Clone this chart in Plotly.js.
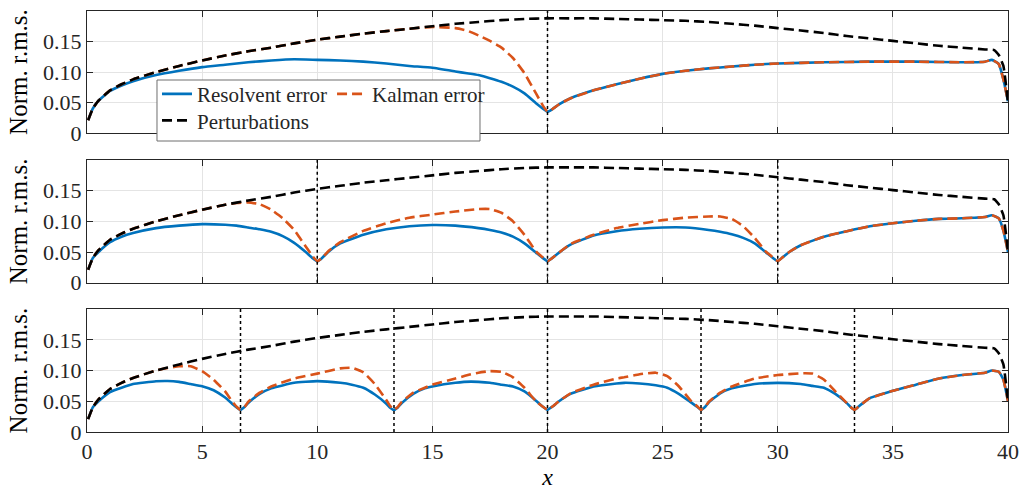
<!DOCTYPE html>
<html>
<head>
<meta charset="utf-8">
<script src="https://cdn.plot.ly/plotly-3.0.1.min.js"></script>
<style>
  html, body { margin: 0; padding: 0; background: #fff; }
  #chart { width: 1023px; height: 490px; }
</style>
</head>
<body>
<div id="chart"></div>
<script>
// Perturbation amplitude (identical in every panel)
const pertX = [0.05,0.25,0.5,1,1.5,2,3,4,5,6,7,8,9,10,11,12,13,14,15,16,17,18,19,20,21,22,23,24,25,26,27,28,29,30,31,32,33,34,35,36,37,38,39,39.4,39.6,39.8,40];
const pertY = [0.021,0.040,0.053,0.070,0.080,0.088,0.100,0.110,0.119,0.127,0.134,0.140,0.147,0.153,0.158,0.163,0.167,0.171,0.175,0.179,0.182,0.185,0.187,0.188,0.188,0.188,0.187,0.186,0.185,0.184,0.182,0.179,0.176,0.172,0.168,0.164,0.159,0.155,0.151,0.147,0.143,0.140,0.137,0.136,0.128,0.110,0.050];

// Panel 1: one sensor at x = 20
const p1X = [0.05,0.25,0.5,1,1.5,2,3,4,5,6,7,8,9,10,11,12,13,14,15,16,16.5,17,17.5,18,18.5,19,19.5,19.8,20,20.2,20.5,21,22,23,24,25,26,27,28,29,30,32,34,36,38,39,39.3,39.6,39.8,40];
const p1Resolvent = [0.021,0.040,0.053,0.069,0.078,0.085,0.095,0.102,0.108,0.112,0.116,0.119,0.121,0.120,0.119,0.117,0.114,0.110,0.107,0.101,0.098,0.095,0.090,0.084,0.076,0.065,0.049,0.040,0.035,0.039,0.047,0.057,0.070,0.080,0.089,0.097,0.102,0.106,0.109,0.112,0.114,0.116,0.117,0.117,0.116,0.117,0.120,0.113,0.088,0.052];
const p1Kalman = [0.021,0.040,0.053,0.070,0.080,0.088,0.100,0.110,0.119,0.127,0.134,0.140,0.147,0.153,0.158,0.163,0.167,0.171,0.174,0.172,0.168,0.160,0.151,0.140,0.123,0.098,0.065,0.045,0.035,0.039,0.047,0.057,0.070,0.080,0.089,0.097,0.102,0.106,0.109,0.112,0.114,0.116,0.117,0.117,0.116,0.117,0.120,0.113,0.088,0.052];
const p1Sensors = [20];

// Panel 2: sensors at x = 10, 20, 30
const p2X = [0.05,0.25,0.5,1,1.5,2,3,4,5,6,6.5,7,7.5,8,8.5,9,9.5,9.8,10,10.2,10.5,11,12,13,14,15,16,17,17.5,18,18.5,19,19.5,19.8,20,20.2,20.5,21,22,23,24,25,26,27,27.5,28,28.5,29,29.5,29.8,30,30.2,30.5,31,32,33,34,35,36,37,38,39,39.3,39.6,39.8,40];
const p2Resolvent = [0.021,0.040,0.050,0.066,0.075,0.081,0.089,0.093,0.0955,0.0945,0.093,0.090,0.087,0.083,0.076,0.065,0.050,0.040,0.035,0.040,0.051,0.064,0.078,0.087,0.092,0.094,0.093,0.089,0.086,0.082,0.075,0.064,0.049,0.040,0.035,0.040,0.049,0.062,0.077,0.084,0.088,0.090,0.090,0.086,0.083,0.079,0.073,0.064,0.049,0.040,0.035,0.041,0.050,0.061,0.075,0.084,0.092,0.097,0.101,0.104,0.105,0.107,0.110,0.105,0.085,0.050];
const p2Kalman = [0.021,0.040,0.053,0.070,0.080,0.088,0.100,0.110,0.119,0.127,0.130,0.131,0.128,0.119,0.105,0.086,0.059,0.043,0.035,0.040,0.052,0.066,0.0845,0.097,0.106,0.111,0.116,0.120,0.120,0.114,0.100,0.078,0.051,0.041,0.035,0.040,0.049,0.063,0.078,0.089,0.096,0.102,0.106,0.108,0.108,0.104,0.092,0.073,0.050,0.041,0.035,0.041,0.050,0.061,0.075,0.084,0.092,0.097,0.101,0.104,0.105,0.107,0.110,0.105,0.085,0.050];
const p2Sensors = [10, 20, 30];

// Panel 3: sensors every 40/6
const p3X = [0.05,0.25,0.5,1,1.5,2,3,3.5,4,4.5,5,5.5,6,6.3,6.5,6.667,
  6.85,7,7.5,8,9,10,11,11.5,12,12.5,13,13.15,13.333,
  13.5,13.67,14.17,14.67,15,16,16.67,17,17.5,18,18.5,19,19.5,19.8,20,
  20.2,20.5,21,22,23,23.33,24,24.7,25.2,25.7,26.2,26.5,26.667,
  26.85,27,27.5,28,29,30,31,31.5,32,32.5,33,33.15,33.333,
  33.5,33.7,34,35,36,37,38,39,39.3,39.6,39.8,40];
const p3Resolvent = [0.021,0.040,0.050,0.065,0.072,0.078,0.0825,0.083,0.0815,0.078,0.0745,0.068,0.056,0.046,0.040,0.036,
  0.041,0.047,0.062,0.071,0.080,0.0827,0.080,0.077,0.072,0.061,0.046,0.040,0.036,
  0.040,0.047,0.062,0.071,0.074,0.080,0.082,0.0815,0.080,0.077,0.074,0.066,0.051,0.041,0.036,
  0.041,0.050,0.062,0.074,0.079,0.080,0.079,0.076,0.072,0.062,0.049,0.041,0.036,
  0.041,0.048,0.063,0.071,0.078,0.080,0.078,0.075,0.072,0.062,0.047,0.041,0.036,
  0.041,0.047,0.055,0.067,0.077,0.087,0.0926,0.0965,0.100,0.098,0.085,0.050];
const p3Kalman = [0.021,0.040,0.053,0.070,0.080,0.088,0.100,0.104,0.107,0.107,0.099,0.085,0.066,0.050,0.041,0.036,
  0.041,0.049,0.064,0.074,0.087,0.095,0.1035,0.1045,0.097,0.078,0.052,0.043,0.036,
  0.041,0.049,0.064,0.072,0.077,0.087,0.094,0.0965,0.099,0.098,0.089,0.072,0.050,0.041,0.036,
  0.041,0.050,0.063,0.077,0.087,0.089,0.094,0.0965,0.091,0.0744,0.052,0.042,0.036,
  0.041,0.049,0.064,0.074,0.087,0.0926,0.0954,0.095,0.0855,0.066,0.047,0.041,0.036,
  0.041,0.047,0.055,0.067,0.077,0.087,0.0926,0.0965,0.100,0.098,0.085,0.050];
const p3Sensors = [6.667, 13.333, 20, 26.667, 33.333];

const xTicks = [0, 5, 10, 15, 20, 25, 30, 35, 40];
const yTicks = [0, 0.05, 0.10, 0.15];
const yTickText = ['0', '0.05', '0.10', '0.15'];
const seriesNames = ['Resolvent error', 'Kalman error', 'Perturbations'];

const BLUE = '#0072BD', ORANGE = '#D95319', INK = '#262626';
const FONT = 'Liberation Serif, Times New Roman, serif';
const DASH = '10px,5px';

const panels = [
  {x: p1X, res: p1Resolvent, kal: p1Kalman, sensors: p1Sensors},
  {x: p2X, res: p2Resolvent, kal: p2Kalman, sensors: p2Sensors},
  {x: p3X, res: p3Resolvent, kal: p3Kalman, sensors: p3Sensors}
];

const traces = [];
const shapes = [];
panels.forEach((p, i) => {
  const xa = i === 0 ? 'x' : 'x' + (i + 1);
  const ya = i === 0 ? 'y' : 'y' + (i + 1);
  const first = i === 0;
  traces.push({x: p.x, y: p.res, xaxis: xa, yaxis: ya, type: 'scatter', mode: 'lines',
    name: seriesNames[0], showlegend: first, legend: 'legend',
    line: {color: BLUE, width: 2.6, shape: 'spline', smoothing: 0.4}});
  traces.push({x: p.x, y: p.kal, xaxis: xa, yaxis: ya, type: 'scatter', mode: 'lines',
    name: seriesNames[1], showlegend: first, legend: 'legend',
    line: {color: ORANGE, width: 2.6, dash: DASH, shape: 'spline', smoothing: 0.4}});
  traces.push({x: pertX, y: pertY, xaxis: xa, yaxis: ya, type: 'scatter', mode: 'lines',
    name: seriesNames[2], showlegend: first, legend: 'legend2',
    line: {color: '#000', width: 2.6, dash: DASH, shape: 'spline', smoothing: 0.4}});
  p.sensors.forEach(s => {
    shapes.push({type: 'line', xref: xa, yref: ya + ' domain', x0: s, x1: s, y0: 0, y1: 1,
      line: {color: '#000', width: 1.5, dash: 'dot'}, layer: 'above'});
  });
});

// legend frame
shapes.push({type: 'rect', xref: 'paper', yref: 'paper', x0: 0.076, x1: 0.4267, y0: 0.6912, y1: 0.8361,
  fillcolor: '#fff', line: {color: '#6e6e6e', width: 1}, layer: 'above'});

const xBase = {
  range: [0, 40], tickvals: xTicks, ticks: 'inside', ticklen: 6, tickwidth: 1, tickcolor: INK,
  showline: true, linecolor: INK, linewidth: 1, mirror: 'ticks',
  showgrid: true, gridcolor: '#e4e4e4', gridwidth: 1, zeroline: false, fixedrange: true,
  tickfont: {size: 22, color: INK}
};
const yBase = {
  range: [0, 0.2], tickvals: yTicks, ticktext: yTickText, ticks: 'inside', ticklen: 6, tickwidth: 1, tickcolor: INK,
  showline: true, linecolor: INK, linewidth: 1, mirror: 'ticks',
  showgrid: true, gridcolor: '#e4e4e4', gridwidth: 1, zeroline: false, fixedrange: true,
  tickfont: {size: 22, color: INK},
  title: {text: 'Norm. r.m.s.', font: {size: 25, color: '#000'}, standoff: 8}
};

const layout = {
  width: 1023, height: 490,
  margin: {l: 87, r: 15, t: 11, b: 58},
  paper_bgcolor: '#fff', plot_bgcolor: '#fff',
  font: {family: FONT, size: 21, color: INK},
  showlegend: true,
  xaxis: Object.assign({}, xBase, {anchor: 'y', showticklabels: false}),
  xaxis2: Object.assign({}, xBase, {anchor: 'y2', showticklabels: false}),
  xaxis3: Object.assign({}, xBase, {anchor: 'y3', showticklabels: true,
    title: {text: '<i>x</i>', font: {size: 24, color: '#000'}, standoff: 2}}),
  yaxis: Object.assign({}, yBase, {anchor: 'x', domain: [0.710, 1.0]}),
  yaxis2: Object.assign({}, yBase, {anchor: 'x2', domain: [0.3547, 0.646]}),
  yaxis3: Object.assign({}, yBase, {anchor: 'x3', domain: [0, 0.292]}),
  legend: {orientation: 'h', x: 0.076, xanchor: 'left', y: 0.851, yanchor: 'top',
    bgcolor: 'rgba(0,0,0,0)', borderwidth: 0, font: {size: 21, color: INK}},
  legend2: {orientation: 'h', x: 0.076, xanchor: 'left', y: 0.788, yanchor: 'top',
    bgcolor: 'rgba(0,0,0,0)', borderwidth: 0, font: {size: 21, color: INK}},
  shapes: shapes
};

Plotly.newPlot('chart', traces, layout, {displayModeBar: false, staticPlot: true});
</script>
</body>
</html>
